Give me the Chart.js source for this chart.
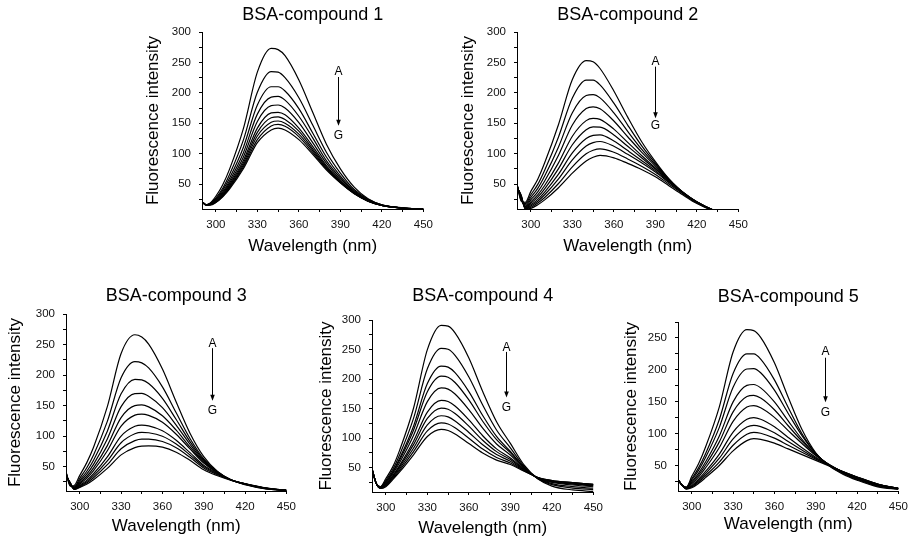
<!DOCTYPE html>
<html><head><meta charset="utf-8">
<script src="https://cdn.jsdelivr.net/npm/chart.js@4.4.0/dist/chart.umd.min.js"></script>
<style>
html,body{margin:0;padding:0;background:#fff;overflow:hidden;width:917px;height:545px;}
canvas{position:absolute;}
</style></head><body>
<canvas id="c1"></canvas><canvas id="c2"></canvas><canvas id="c3"></canvas><canvas id="c4"></canvas><canvas id="c5"></canvas>
<script>
// ---- data ----
const wavelengths = [290, 293, 296, 300, 305, 310, 320, 330, 340, 345, 350, 360, 370, 380, 390, 400, 410, 420, 435, 450];

const compound1 = [
 [21, 16, 19, 30, 49, 75, 142, 234, 273, 271, 261, 221, 168, 115, 75, 45, 26, 16, 11, 9],
 [21, 16, 18.5, 27, 43, 66, 123, 201, 235, 234, 225, 192, 147, 102, 68, 41, 25, 16, 10.5, 9],
 [21, 16, 18, 25, 40, 60, 111, 180, 210, 210, 203, 174, 134, 94, 63, 39, 24, 15.5, 10.5, 9],
 [21, 16, 17.5, 24, 37, 55.5, 102, 165, 193, 194, 188, 161.5, 126, 88, 60, 37.5, 23, 15, 10.5, 9],
 [21, 15.8, 17, 23, 35, 52, 95, 153, 179, 180, 175, 151, 118, 84, 57, 36, 23, 15, 10.5, 9],
 [21, 15.8, 16.8, 22, 33, 49, 89, 142, 167, 168, 164, 142, 112, 80, 55, 35.5, 22.5, 15, 10.5, 9],
 [21, 15.7, 16.5, 21, 32, 47, 85, 135, 159, 160.5, 156, 137, 108, 78, 54, 35, 22, 15, 10.5, 9],
 [21, 15.6, 16.2, 20.6, 31, 45, 81.5, 129, 151.6, 153.7, 150, 132, 105, 76, 53, 35, 22, 15, 10.5, 9],
 [21, 15.5, 16, 20, 30, 44, 78.5, 123, 145.5, 148, 145, 128, 102, 74.5, 52, 34.5, 22, 15, 10.6, 9],
 [21, 15.5, 15.5, 19.6, 29, 42, 75.5, 118, 139, 142, 139, 123, 99, 73, 52, 34, 22, 15, 10.6, 9]
];
const compound2 = [
 [50, 22, 20, 38, 58, 85, 148, 222, 253, 251, 240, 203, 160, 120, 87, 58, 35, 20, 5, 0],
 [49.5, 23, 18, 32.4, 49.5, 72.9, 127.5, 191.5, 220.9, 220.9, 213.1, 183, 147, 113.1, 84.3, 57.5, 35.7, 20.4, 5, 0],
 [49, 25, 16, 28, 42.9, 63.2, 111, 167.3, 195.5, 197, 191.7, 167.1, 136.6, 107.4, 82, 57.1, 36.2, 20.6, 5, 0],
 [48.5, 26, 14, 24.2, 37.3, 55.1, 97.4, 147.2, 174.2, 177, 173.7, 153.7, 127.8, 102.6, 79.6, 56.6, 36.4, 20.7, 4.9, 0],
 [48, 27, 13, 20.8, 32.3, 47.7, 84.8, 128.6, 154.3, 158, 156.4, 140.3, 118.5, 97, 76.5, 55.2, 36, 20.4, 4.7, 0],
 [47, 28, 12, 18.3, 28.4, 42.1, 75.3, 114.6, 139.4, 144, 143.7, 130.8, 112.1, 93.3, 74.7, 54.6, 36, 20.4, 4.7, 0],
 [46.5, 29, 11, 15.8, 24.8, 36.9, 66.3, 101.2, 124.9, 130.1, 131, 120.8, 105, 88.9, 72.1, 53.3, 35.5, 20.1, 4.5, 0],
 [46, 30, 10, 13.8, 21.7, 32.4, 58.6, 89.8, 112.6, 118.2, 120, 112.2, 98.9, 84.9, 69.7, 52, 34.9, 19.7, 4.4, 0],
 [45, 31, 9.5, 11.8, 18.7, 27.9, 50.9, 78.3, 99.7, 105.6, 108, 102.3, 91.3, 79.4, 65.9, 49.6, 33.6, 18.9, 4.2, 0],
 [44, 32, 9, 10, 16, 24, 44, 68, 88, 94, 97, 93, 84, 74, 62, 47, 32, 18, 4, 0]
];
const compound3 = [
 [42, 18, 19, 35.6, 56.1, 81.7, 148.2, 235.3, 266, 262.2, 250.6, 209.7, 155.9, 104.7, 66.3, 42, 28, 20.5, 13.5, 11],
 [41, 19, 17, 30.8, 47.6, 68.9, 124, 195.5, 222, 219.9, 211.6, 180.6, 138.2, 96.1, 62.8, 41.5, 28, 20.8, 13.7, 11],
 [40, 20, 16, 27.6, 42, 60.5, 108, 169.2, 193, 192.2, 186, 161.8, 127.1, 91, 60.9, 41, 28, 21, 13.9, 11],
 [39, 21, 15, 25.1, 37.5, 53.7, 95.3, 148.2, 169.7, 170, 165.4, 146.5, 117.9, 86.6, 59.1, 40.5, 28, 21.2, 14.1, 11],
 [38, 22, 14, 23, 33.8, 48, 84.4, 130.3, 150, 151, 147.8, 133.2, 109.6, 82.4, 57.2, 40, 28, 21.4, 14.3, 11],
 [37, 22, 14, 21.3, 30.8, 43.5, 75.9, 116.3, 134.4, 136, 133.8, 122.6, 103, 79, 55.7, 39.5, 28, 21.5, 14.5, 11],
 [36, 23, 13, 19.4, 27.4, 38.3, 65.9, 100, 116, 118, 116.7, 108.7, 93.1, 72.8, 52.1, 38.5, 28, 21.7, 14.6, 11],
 [35, 23, 13, 18.2, 25.2, 34.8, 59.2, 89.1, 103.7, 106, 105.4, 99.7, 86.9, 69.1, 50.1, 37.5, 28, 21.8, 14.8, 11],
 [34, 24, 13, 17, 23.1, 31.7, 53.1, 79.2, 92.5, 95, 94.9, 91.1, 80.8, 65.2, 47.8, 36.5, 27.8, 21.9, 14.9, 11],
 [33, 24, 12.5, 15.9, 21.1, 28.5, 47, 69.2, 81, 83.6, 84, 81.8, 73.6, 60.3, 44.8, 35, 27.5, 22, 15, 11]
];
const compound4 = [
 [48, 24, 18, 31.8, 51.5, 79.9, 150.7, 249.9, 291, 289.6, 278.2, 235.7, 179.1, 128, 91.2, 54.4, 31, 19, 12.5, 9.9],
 [48, 24, 17.7, 28.8, 47, 72, 133.6, 217.5, 252, 250.4, 240.2, 203.6, 156.1, 113.9, 83.6, 52.3, 31.3, 21.4, 15.7, 13],
 [48, 24, 17.3, 26.6, 43.5, 65.9, 120.3, 192.4, 222, 220.3, 210.9, 178.9, 138.4, 103, 77.7, 50.7, 31.6, 23.3, 18.1, 15.3],
 [48, 24, 17, 25.6, 42.1, 63.1, 113.6, 178.6, 205, 203.2, 194.3, 164.8, 128.7, 97.6, 75.6, 50, 32, 25.2, 20.8, 17.7],
 [48, 24, 16.7, 24.1, 39.7, 59, 104.7, 161.9, 185, 183.1, 174.8, 148.3, 116.9, 90.3, 71.6, 49, 32.3, 26.3, 22.3, 19.2],
 [48, 24, 16.3, 22.2, 36.7, 54.1, 94.8, 144.2, 164, 162, 154.4, 131.1, 104.2, 82, 66.5, 47.7, 32.6, 27, 23, 19.9],
 [48, 24, 16, 21.2, 35.2, 51.5, 89.1, 133.4, 151, 149, 141.7, 120.4, 96.6, 77.3, 63.9, 46.6, 32.9, 27.6, 24, 21],
 [48, 24, 15.7, 20.2, 33.5, 48.6, 83.1, 122.5, 138, 136, 129.2, 109.8, 88.9, 72.3, 61, 45.6, 33.1, 28, 24.6, 21.6],
 [48, 24, 15.3, 19.1, 31.7, 45.7, 77.4, 112.4, 126, 124, 117.6, 100, 81.7, 67.5, 58, 44.7, 33.3, 28.3, 24.9, 21.9],
 [48, 24, 15, 18, 30, 43, 72, 103, 115, 113, 107, 91, 75, 63, 55.5, 44, 33.5, 28.5, 25, 22]
];
const compound5 = [
 [28, 19, 16, 33, 53, 79, 142, 228, 263, 261.5, 251, 211, 157, 106.5, 70, 49, 36, 27, 16.5, 12.5],
 [28, 19, 15.7, 29.2, 46.7, 68.5, 122.2, 194.4, 225, 224.9, 216.8, 184.2, 140.9, 99.7, 69, 49.5, 37, 28, 17.5, 13],
 [28, 19, 15.3, 27.1, 42.7, 62.4, 109.8, 172.8, 201.3, 202, 195.4, 168.1, 131.6, 96.8, 68.5, 50, 38, 29, 18.5, 13.5],
 [28, 19, 15, 24.5, 38.1, 55.4, 96.2, 149.8, 175.6, 177, 171.7, 149.6, 119.8, 91.1, 67.5, 50.5, 38.5, 29.5, 19, 13.8],
 [28, 19, 14.7, 22.8, 35.1, 50.7, 87, 134.1, 158.1, 160, 155.8, 137.4, 112.3, 88.1, 66.5, 51, 39, 30, 19.5, 14],
 [28, 19, 14.3, 21.1, 32.2, 46.2, 78.3, 119.3, 141.7, 144, 140.6, 125.5, 104.7, 84.4, 65.5, 51, 39.5, 30.5, 20, 14],
 [28, 19, 14, 18.8, 28.4, 40.6, 67.9, 102.5, 122.5, 125, 122.5, 110.6, 94, 77.8, 63, 50.5, 39.5, 31, 20.3, 14],
 [28, 19, 13.7, 17.5, 26.1, 37.2, 61.4, 91.6, 110.2, 113, 111, 101.4, 87.7, 74.3, 61.5, 50, 40, 31.5, 20.6, 14],
 [28, 19, 13.3, 16.2, 24, 34, 55.4, 81.8, 99.1, 102, 100.6, 92.9, 81.7, 70.7, 60, 49.5, 40, 32, 20.8, 14],
 [28, 19, 13, 15, 22, 31, 50, 73, 89, 92, 91, 85, 76, 67, 58, 49, 40, 32, 21, 14]
];

const panelTitles = ['BSA-compound 1', 'BSA-compound 2', 'BSA-compound 3', 'BSA-compound 4', 'BSA-compound 5'];
const xTickPositions = [300, 315, 330, 345, 360, 375, 390, 405, 420, 435, 450];
const xTickLabels = [300, 330, 360, 390, 420, 450];
const yTickPositions300 = [25, 50, 75, 100, 125, 150, 175, 200, 225, 250, 275, 300];
const yTickPositions275 = [25, 50, 75, 100, 125, 150, 175, 200, 225, 250, 275];
const yTickLabels = [50, 100, 150, 200, 250, 300];
const xAxisTitle = 'Wavelength (nm)';
const yAxisTitle = 'Fluorescence intensity';

// ---- rendering ----
const FONT = "'Liberation Sans', Arial, Helvetica, sans-serif";

const arrowPlugin = {
  id: 'arrowNote',
  afterDatasetsDraw(chart, args, o) {
    const {ctx} = chart; const xs = chart.scales.x, ys = chart.scales.y;
    const px = Math.round(xs.getPixelForValue(o.x)) + 0.5;
    ctx.save();
    ctx.fillStyle = '#000'; ctx.strokeStyle = '#000';
    ctx.font = '12px ' + FONT; ctx.textAlign = 'center'; ctx.textBaseline = 'middle';
    ctx.fillText('A', px, ys.getPixelForValue(o.a));
    ctx.fillText('G', px, ys.getPixelForValue(o.g));
    const y1 = ys.getPixelForValue(o.top), y2 = ys.getPixelForValue(o.bot);
    ctx.lineWidth = 1;
    ctx.beginPath(); ctx.moveTo(px, y1); ctx.lineTo(px, y2 - 4); ctx.stroke();
    ctx.beginPath(); ctx.moveTo(px - 2.3, y2 - 6); ctx.lineTo(px + 2.3, y2 - 6); ctx.lineTo(px, y2); ctx.closePath(); ctx.fill();
    ctx.restore();
  }
};

function makePanel(p) {
  const cv = document.getElementById(p.id);
  cv.width = p.w; cv.height = p.h;
  cv.style.left = p.left + 'px'; cv.style.top = p.top + 'px';
  cv.style.width = p.w + 'px'; cv.style.height = p.h + 'px';
  const datasets = p.curves.map((ys, k) => ({
    label: 'curve ' + (k + 1),
    data: wavelengths.map((x, j) => ({x: x, y: ys[j]})),
    borderColor: '#000', borderWidth: 1.2, pointRadius: 0, fill: false,
    cubicInterpolationMode: 'monotone'
  }));
  new Chart(cv, {
    type: 'line',
    data: {datasets},
    options: {
      responsive: false, animation: false, devicePixelRatio: 1,
      layout: {padding: {left: 0, right: 12, top: 0, bottom: 0}},
      plugins: {
        legend: {display: false}, tooltip: {enabled: false},
        title: {display: true, text: p.title, fullSize: false, color: '#000',
          font: {family: FONT, size: 18, weight: 'normal'}, padding: {top: p.pt, bottom: p.pb}},
        arrowNote: p.note
      },
      scales: {
        x: {
          type: 'linear', min: 290, max: 450,
          afterBuildTicks: (s) => { s.ticks = xTickPositions.map(v => ({value: v})); },
          afterFit: (s) => { s.height = p.hx; },
          ticks: {autoSkip: false, maxRotation: 0, padding: 6, color: '#111',
            font: {family: FONT, size: 11.5},
            callback: (v) => xTickLabels.includes(Math.round(v)) ? String(Math.round(v)) : ''},
          grid: {drawOnChartArea: false, drawTicks: true, tickLength: 3, color: '#000'},
          border: {display: true, color: '#000', width: 1},
          title: {display: true, text: xAxisTitle, color: '#000', font: {family: FONT, size: 17}, padding: 0}
        },
        y: {
          type: 'linear', min: p.ymin, max: p.ymax,
          afterBuildTicks: (s) => { s.ticks = p.yticks.map(v => ({value: v})); },
          afterFit: (s) => { s.width = p.wy; },
          ticks: {autoSkip: false, padding: 8, color: '#111',
            font: {family: FONT, size: 11.5},
            callback: (v) => yTickLabels.includes(Math.round(v)) ? String(Math.round(v)) : ''},
          grid: {drawOnChartArea: false, drawTicks: true, tickLength: 3, color: '#000'},
          border: {display: true, color: '#000', width: 1},
          title: {display: true, text: yAxisTitle, color: '#000', font: {family: FONT, size: 17}, padding: 0}
        }
      }
    },
    plugins: [arrowPlugin]
  });
}

makePanel({id: 'c1', curves: compound1, title: panelTitles[0], left: 143, top: 2, w: 296, h: 255, pt: 2.2, pb: 6.2, hx: 48, wy: 59, ymin: 9, ymax: 300, yticks: yTickPositions300,
  note: {x: 388, a: 235, top: 226, bot: 146, g: 129}});
makePanel({id: 'c2', curves: compound2, title: panelTitles[1], left: 458, top: 2, w: 296, h: 255, pt: 2.2, pb: 6.2, hx: 48, wy: 59, ymin: 9, ymax: 300, yticks: yTickPositions300,
  note: {x: 390, a: 252, top: 243, bot: 158, g: 146}});
makePanel({id: 'c3', curves: compound3, title: panelTitles[2], left: 5, top: 283, w: 297, h: 254, pt: 1.9, pb: 7.5, hx: 46, wy: 61, ymin: 10, ymax: 300, yticks: yTickPositions300,
  note: {x: 396, a: 251, top: 244, bot: 158, g: 141}});
makePanel({id: 'c4', curves: compound4, title: panelTitles[3], left: 316, top: 283, w: 293, h: 256, pt: 1.9, pb: 13.5, hx: 47, wy: 56, ymin: 9, ymax: 300, yticks: yTickPositions300,
  note: {x: 387, a: 254, top: 246, bot: 169, g: 152}});
makePanel({id: 'c5', curves: compound5, title: panelTitles[4], left: 621, top: 285, w: 293, h: 250, pt: 1.7, pb: 13.7, hx: 44, wy: 57, ymin: 10, ymax: 275, yticks: yTickPositions275,
  note: {x: 397, a: 228, top: 219, bot: 149, g: 133}});
</script>
</body></html>
